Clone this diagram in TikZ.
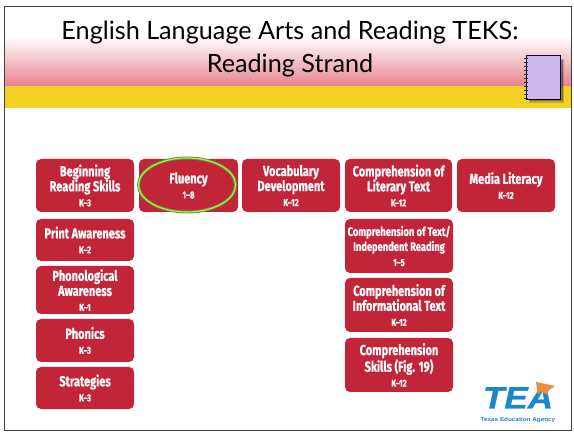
\documentclass[tikz,border=0pt]{standalone}
\usepackage{fontspec}
\setmainfont{Lato}
\newfontfamily\boxfont[FakeStretch=0.76,BoldFeatures={FakeStretch=0.76,FakeBold=0.6}]{Fira Sans}
\newfontfamily\logofont[FakeStretch=1.13,BoldItalicFeatures={FakeStretch=1.13,FakeBold=1}]{Liberation Sans}
\usetikzlibrary{shadows,fadings,calc}
\definecolor{tred}{HTML}{C32538}
\definecolor{tpink}{HTML}{E8828F}
\definecolor{tyellow}{HTML}{F2D024}
\definecolor{tlilac}{HTML}{CDB9EE}
\definecolor{tblue}{HTML}{1C86CB}
\definecolor{torange}{HTML}{F08A3C}
\definecolor{tgreen}{HTML}{2FA85A}
\tikzset{
  x=1pt,y=-1pt,
  redbox/.style={fill=tred,rounded corners=5pt,draw=none,text=white,align=center,inner sep=0pt,
    font=\boxfont\bfseries\fontsize{14.5}{15}\selectfont},
  titletext/.style={font=\fontsize{25.2}{33}\selectfont,align=center,text=black,inner sep=0pt},
}
\newcommand{\gr}[1]{{\fontsize{10}{13}\selectfont #1}}
\newcommand{\rbox}[6]{\path[redbox] (#2,#3) rectangle (#4,#5);
  \node[redbox,fill=none] (#1) at ({(#2+#4)/2},{(#3+#5)/2}) {#6};}
\begin{document}
\begin{tikzpicture}
\useasboundingbox (0,0) rectangle (574,433);
\fill[white] (0,0) rectangle (574,433);
% banner
\shade[top color=white,bottom color=tpink] (4.5,36) rectangle (571,86);
\fill[tyellow] (4.5,86) rectangle (571,108);
\draw[black!75,line width=0.9pt] (4.5,6.5) rectangle (571.5,430);
% title
\node[titletext] (title) at (290,49) {English Language Arts and Reading TEKS:\\Reading Strand};
% notebook
\fill[black,opacity=0.18] (529,59) rectangle (564,103);
\fill[black,opacity=0.3] (530,60) rectangle (562.5,101.5);
\fill[black,opacity=0.45] (531,61) rectangle (561,100);
\node[draw=black!75!blue,fill=tlilac,line width=0.9pt,minimum width=34pt,minimum height=44pt,inner sep=0pt] (notebook) at (543,77) {};
\foreach \yy in {58,62,...,98}{\draw[black!80,line width=0.8pt] (524,\yy) -- (528,\yy);}
% boxes
\rbox{begin}{36}{159}{134}{212}{Beginning\\Reading Skills\\\gr{K–3}}
\rbox{fluency}{139}{159}{238}{212}{Fluency\\\gr{1–8}}
\rbox{vocab}{242}{159}{340}{212}{Vocabulary\\Development\\\gr{K–12}}
\rbox{lit}{345}{159}{452}{212}{Comprehension of\\Literary Text\\\gr{K–12}}
\rbox{media}{457}{159}{555}{212}{Media Literacy\\\gr{K–12}}
\rbox{print}{36}{219}{134}{261}{Print Awareness\\\gr{K–2}}
\rbox{phono}{36}{266}{134}{314}{Phonological\\Awareness\\\gr{K–1}}
\rbox{phonics}{36}{319}{134}{362}{Phonics\\\gr{K–3}}
\rbox{strat}{36}{367}{134}{409}{Strategies\\\gr{K–3}}
\rbox{indep}{345}{219}{453}{273}{{\fontsize{12.3}{14}\selectfont Comprehension of Text/}\\{\fontsize{12.3}{14}\selectfont Independent Reading}\\\gr{1–5}}
\rbox{info}{345}{278}{453}{332}{Comprehension of\\Informational Text\\\gr{K–12}}
\rbox{skills}{345}{338}{453}{392}{Comprehension\\Skills (Fig. 19)\\\gr{K–12}}
% highlight ellipse
\draw[tgreen,line width=3pt] (187,185) ellipse [x radius=48.5,y radius=27];
\draw[tyellow,line width=1.2pt] (187,185) ellipse [x radius=48.5,y radius=27];
% logo
\node[inner sep=0pt,text=tblue,text height=22pt,text depth=0pt,font=\logofont\bfseries\itshape\fontsize{31}{31}\selectfont] (tea) at (518,397.5) {TEA};
\fill[torange] (536,382) -- (555,386) -- (549,390) -- (547,395) -- (541,391) -- (538,395) -- (537,389) -- cycle;
\node[inner sep=0pt,text=tblue,text height=4.5pt,text depth=0pt,font=\logofont\bfseries\fontsize{5.6}{6}\selectfont] (agency) at (518,419) {Texas Education Agency};
\end{tikzpicture}
\end{document}
